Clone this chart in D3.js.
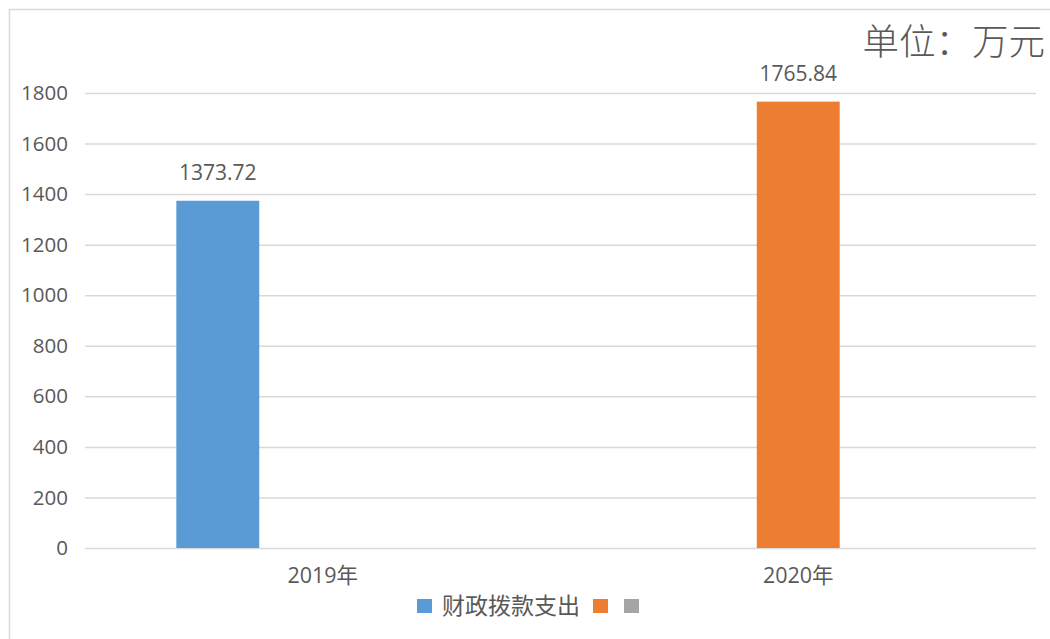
<!DOCTYPE html>
<html>
<head>
<meta charset="utf-8">
<script src="https://cdn.jsdelivr.net/npm/d3@7"></script>
<style>
  body { margin: 0; background: #fff; }
  text { font-family: "Open Sans", "Noto Sans CJK SC", sans-serif; fill: #595959; }
</style>
</head>
<body>
<div id="wrapper"></div>
<script>
// data
const categories = ["2019年", "2020年"]
const seriesNames = ["财政拨款支出", "系列2", "系列3"]
const seriesColors = ["#5b9bd5", "#ed7d31", "#a5a5a5"]
// values per series, one per category (null = no bar)
const series1 = [1373.72, null]
const series2 = [null, 1765.84]
const series3 = [null, null]
const yTicks = [0, 200, 400, 600, 800, 1000, 1200, 1400, 1600, 1800]
const unitLabel = "单位：万元"

function drawChart() {
    const width = 1050
    const height = 639
    let dimensions = {
        width: width,
        height: height,
        margin: { top: 93, right: 14, bottom: 91, left: 85 },
    }
    dimensions.boundedWidth = dimensions.width - dimensions.margin.left - dimensions.margin.right
    dimensions.boundedHeight = dimensions.height - dimensions.margin.top - dimensions.margin.bottom

    const svg = d3.select("#wrapper")
        .html("")
        .append("svg")
        .attr("width", dimensions.width)
        .attr("height", dimensions.height)

    // outer chart frame (cut off at right and bottom)
    svg.append("rect")
        .attr("x", 9.5)
        .attr("y", 9.5)
        .attr("width", 1200)
        .attr("height", 800)
        .attr("fill", "none")
        .attr("stroke", "#d9d9d9")
        .attr("stroke-width", 1.5)

    const bounds = svg.append("g")
        .attr("transform", `translate(${dimensions.margin.left},${dimensions.margin.top})`)

    const xScale = d3.scaleBand()
        .domain(categories)
        .range([0, dimensions.boundedWidth])

    const xSub = d3.scaleBand()
        .domain(seriesNames)
        .range([0, xScale.bandwidth()])
        .paddingInner(0.21)
        .paddingOuter(0.87)

    const yScale = d3.scaleLinear()
        .domain([0, 1800])
        .range([dimensions.boundedHeight, 0])

    // gridlines + y labels
    const yAxisGen = d3.axisLeft(yScale)
        .tickValues(yTicks)
        .tickSize(-dimensions.boundedWidth)
        .tickPadding(17)
        .tickFormat(d3.format("d"))
    const yAxis = bounds.append("g").call(yAxisGen)
    yAxis.select(".domain").remove()
    yAxis.selectAll(".tick line")
        .attr("stroke", "#d9d9d9")
        .attr("stroke-width", 1.5)
    yAxis.selectAll(".tick text")
        .attr("font-size", "20.5px")
        .attr("fill", "#595959")

    // x labels
    const xAxisGen = d3.axisBottom(xScale).tickSize(0).tickPadding(20)
    const xAxis = bounds.append("g")
        .attr("transform", `translate(0,${dimensions.boundedHeight})`)
        .call(xAxisGen)
    xAxis.select(".domain").remove()
    xAxis.selectAll(".tick text")
        .attr("font-size", "21.5px")
        .attr("fill", "#595959")

    // bars
    const allSeries = [series1, series2, series3]
    const barData = []
    allSeries.forEach((vals, si) => {
        vals.forEach((v, ci) => {
            if (v != null) barData.push({ cat: categories[ci], s: seriesNames[si], color: seriesColors[si], value: v })
        })
    })

    bounds.append("g")
        .selectAll("rect")
        .data(barData)
        .enter()
        .append("rect")
        .attr("x", d => xScale(d.cat) + xSub(d.s))
        .attr("y", d => yScale(d.value))
        .attr("width", xSub.bandwidth())
        .attr("height", d => yScale(0) - yScale(d.value))
        .attr("fill", d => d.color)

    bounds.append("g")
        .selectAll("text")
        .data(barData)
        .enter()
        .append("text")
        .attr("x", d => xScale(d.cat) + xSub(d.s) + xSub.bandwidth() / 2)
        .attr("y", d => yScale(d.value) - 21)
        .attr("text-anchor", "middle")
        .attr("font-size", "21px")
        .attr("fill", "#404040")
        .text(d => d.value.toFixed(2))

    // unit label top right
    svg.append("text")
        .attr("x", 1045)
        .attr("y", 55)
        .attr("text-anchor", "end")
        .attr("font-size", "36.5px")
        .attr("font-family", "'Noto Sans CJK SC', sans-serif")
        .attr("font-weight", 300)
        .attr("fill", "#595959")
        .text(unitLabel)

    // legend
    const legend = svg.append("g").attr("transform", "translate(417,599)")
    const legendX = [0, 176, 207]
    seriesNames.forEach((name, i) => {
        legend.append("rect")
            .attr("x", legendX[i])
            .attr("y", 0)
            .attr("width", 15)
            .attr("height", 14)
            .attr("fill", seriesColors[i])
    })
    legend.append("text")
        .attr("x", 25)
        .attr("y", 15)
        .attr("font-size", "23px")
        .attr("font-family", "'Noto Sans CJK SC', sans-serif")
        .attr("fill", "#595959")
        .text(seriesNames[0])
}

drawChart()
</script>
</body>
</html>
